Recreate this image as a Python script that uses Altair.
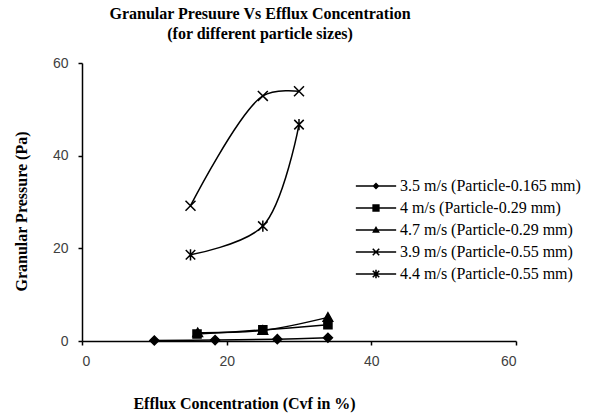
import altair as alt
import pandas as pd

series_names = [
    "3.5 m/s (Particle-0.165 mm)",
    "4 m/s (Particle-0.29 mm)",
    "4.7 m/s (Particle-0.29 mm)",
    "3.9 m/s (Particle-0.55 mm)",
    "4.4 m/s (Particle-0.55 mm)",
]
x_35 = [10, 18.4, 27, 34]
y_35 = [0.1, 0.2, 0.4, 0.7]
x_40 = [15.9, 25, 34]
y_40 = [1.5, 2.4, 3.5]
x_47 = [16, 25, 34]
y_47 = [1.8, 2.3, 5.1]
x_39 = [15, 25, 30]
y_39 = [29.2, 52.9, 53.9]
x_44 = [15, 25, 30]
y_44 = [18.6, 24.8, 46.7]

rows = []
for name, xs, ys in zip(series_names, [x_35, x_40, x_47, x_39, x_44], [y_35, y_40, y_47, y_39, y_44]):
    for xv, yv in zip(xs, ys):
        rows.append({"series": name, "x": xv, "y": yv})
df = pd.DataFrame(rows)

# marker shapes for plotted points
plot_shapes = [
    "M0,-0.95L0.95,0L0,0.95L-0.95,0Z",
    "M-0.85,-0.85H0.85V0.85H-0.85Z",
    "M-1,0.8L0,-0.95L1,0.8Z",
    "M-1.05,-1.05L1.05,1.05M-1.05,1.05L1.05,-1.05",
    "M-1,-1L1,1M-1,1L1,-1M0,-1.2V1.2",
]
# legend symbols (filled outlines): line segment with marker
seg = "M-1.55,-0.06H1.55V0.06H-1.55Z"
xbars = ("M-0.208,-0.292L0.292,0.208L0.208,0.292L-0.292,-0.208Z"
         "M-0.292,0.208L0.208,-0.292L0.292,-0.208L-0.208,0.292Z")
legend_shapes = [
    seg + "M0,-0.27L0.27,0L0,0.27L-0.27,0Z",
    seg + "M-0.28,-0.28H0.28V0.28H-0.28Z",
    seg + "M-0.3,0.22L0,-0.3L0.3,0.22Z",
    seg + xbars,
    seg + xbars + "M-0.06,-0.32H0.06V0.32H-0.06Z",
]

serif = "Liberation Serif"
sans = "Liberation Sans"

x_enc = alt.X(
    "x:Q",
    scale=alt.Scale(domain=[0, 60], nice=False, zero=False),
    axis=alt.Axis(
        values=[0, 20, 40, 60], title="Efflux Concentration (Cvf in %)", grid=False,
        domainColor="black", domainWidth=1.5, tickColor="black", tickSize=4, tickWidth=1.5,
        labelFont=sans, labelFontSize=14, labelColor="#404040", labelPadding=9,
        titleFont=serif, titleFontSize=16, titleFontWeight="bold", titleColor="black",
        titleX=162, titleY=62, titleAlign="center", titleBaseline="middle",
    ),
)
y_enc = alt.Y(
    "y:Q",
    scale=alt.Scale(domain=[0, 60], nice=False, zero=False),
    axis=alt.Axis(
        values=[0, 20, 40, 60], title="Granular Pressure (Pa)", grid=False,
        domainColor="black", domainWidth=1.5, tickColor="black", tickSize=4, tickWidth=1.5,
        labelFont=sans, labelFontSize=14, labelColor="#404040", labelPadding=10,
        titleFont=serif, titleFontSize=16, titleFontWeight="bold", titleColor="black",
        titleX=-61, titleY=148, titleAlign="center", titleBaseline="middle", titleAngle=-90,
    ),
)

lines = alt.Chart(df).mark_line(
    interpolate="catmull-rom", color="black", strokeWidth=1.5
).encode(x=x_enc, y=y_enc, detail="series:N", order="x:Q")

points = alt.Chart(df).mark_point(
    filled=True, fill="black", stroke="black", strokeWidth=1.5, size=90, opacity=1
).encode(
    x="x:Q", y="y:Q",
    shape=alt.Shape("series:N", scale=alt.Scale(domain=series_names, range=plot_shapes), legend=None),
)

legend_layer = alt.Chart(df).mark_point(
    filled=True, fill="black", opacity=0, size=676
).encode(
    x="x:Q", y="y:Q",
    shape=alt.Shape(
        "series:N",
        scale=alt.Scale(domain=series_names, range=legend_shapes),
        legend=alt.Legend(
            title=None, orient="none", legendX=280, legendY=109, padding=0,
            labelFont=serif, labelFontSize=16, labelColor="black", labelOffset=10,
            symbolSize=676, symbolFillColor="black", symbolOpacity=1,
            rowPadding=0, labelLimit=300,
        ),
    ),
)

chart = alt.layer(lines, points, legend_layer).resolve_scale(shape="independent").properties(
    width=434, height=278,
    autosize=alt.AutoSizeParams(type="none"),
    padding={"left": 82, "top": 63, "right": 75, "bottom": 73},
    title=alt.TitleParams(
        ["Granular Presuure Vs Efflux Concentration", "(for different particle sizes)"],
        font=serif, fontSize=16, fontWeight="bold", color="black",
        anchor="middle", dx=-39, offset=14, lineHeight=20,
    ),
).configure(background="white", view=alt.ViewConfig(stroke=None))

chart.save("out.html", embed_options={"renderer": "svg", "actions": False})
